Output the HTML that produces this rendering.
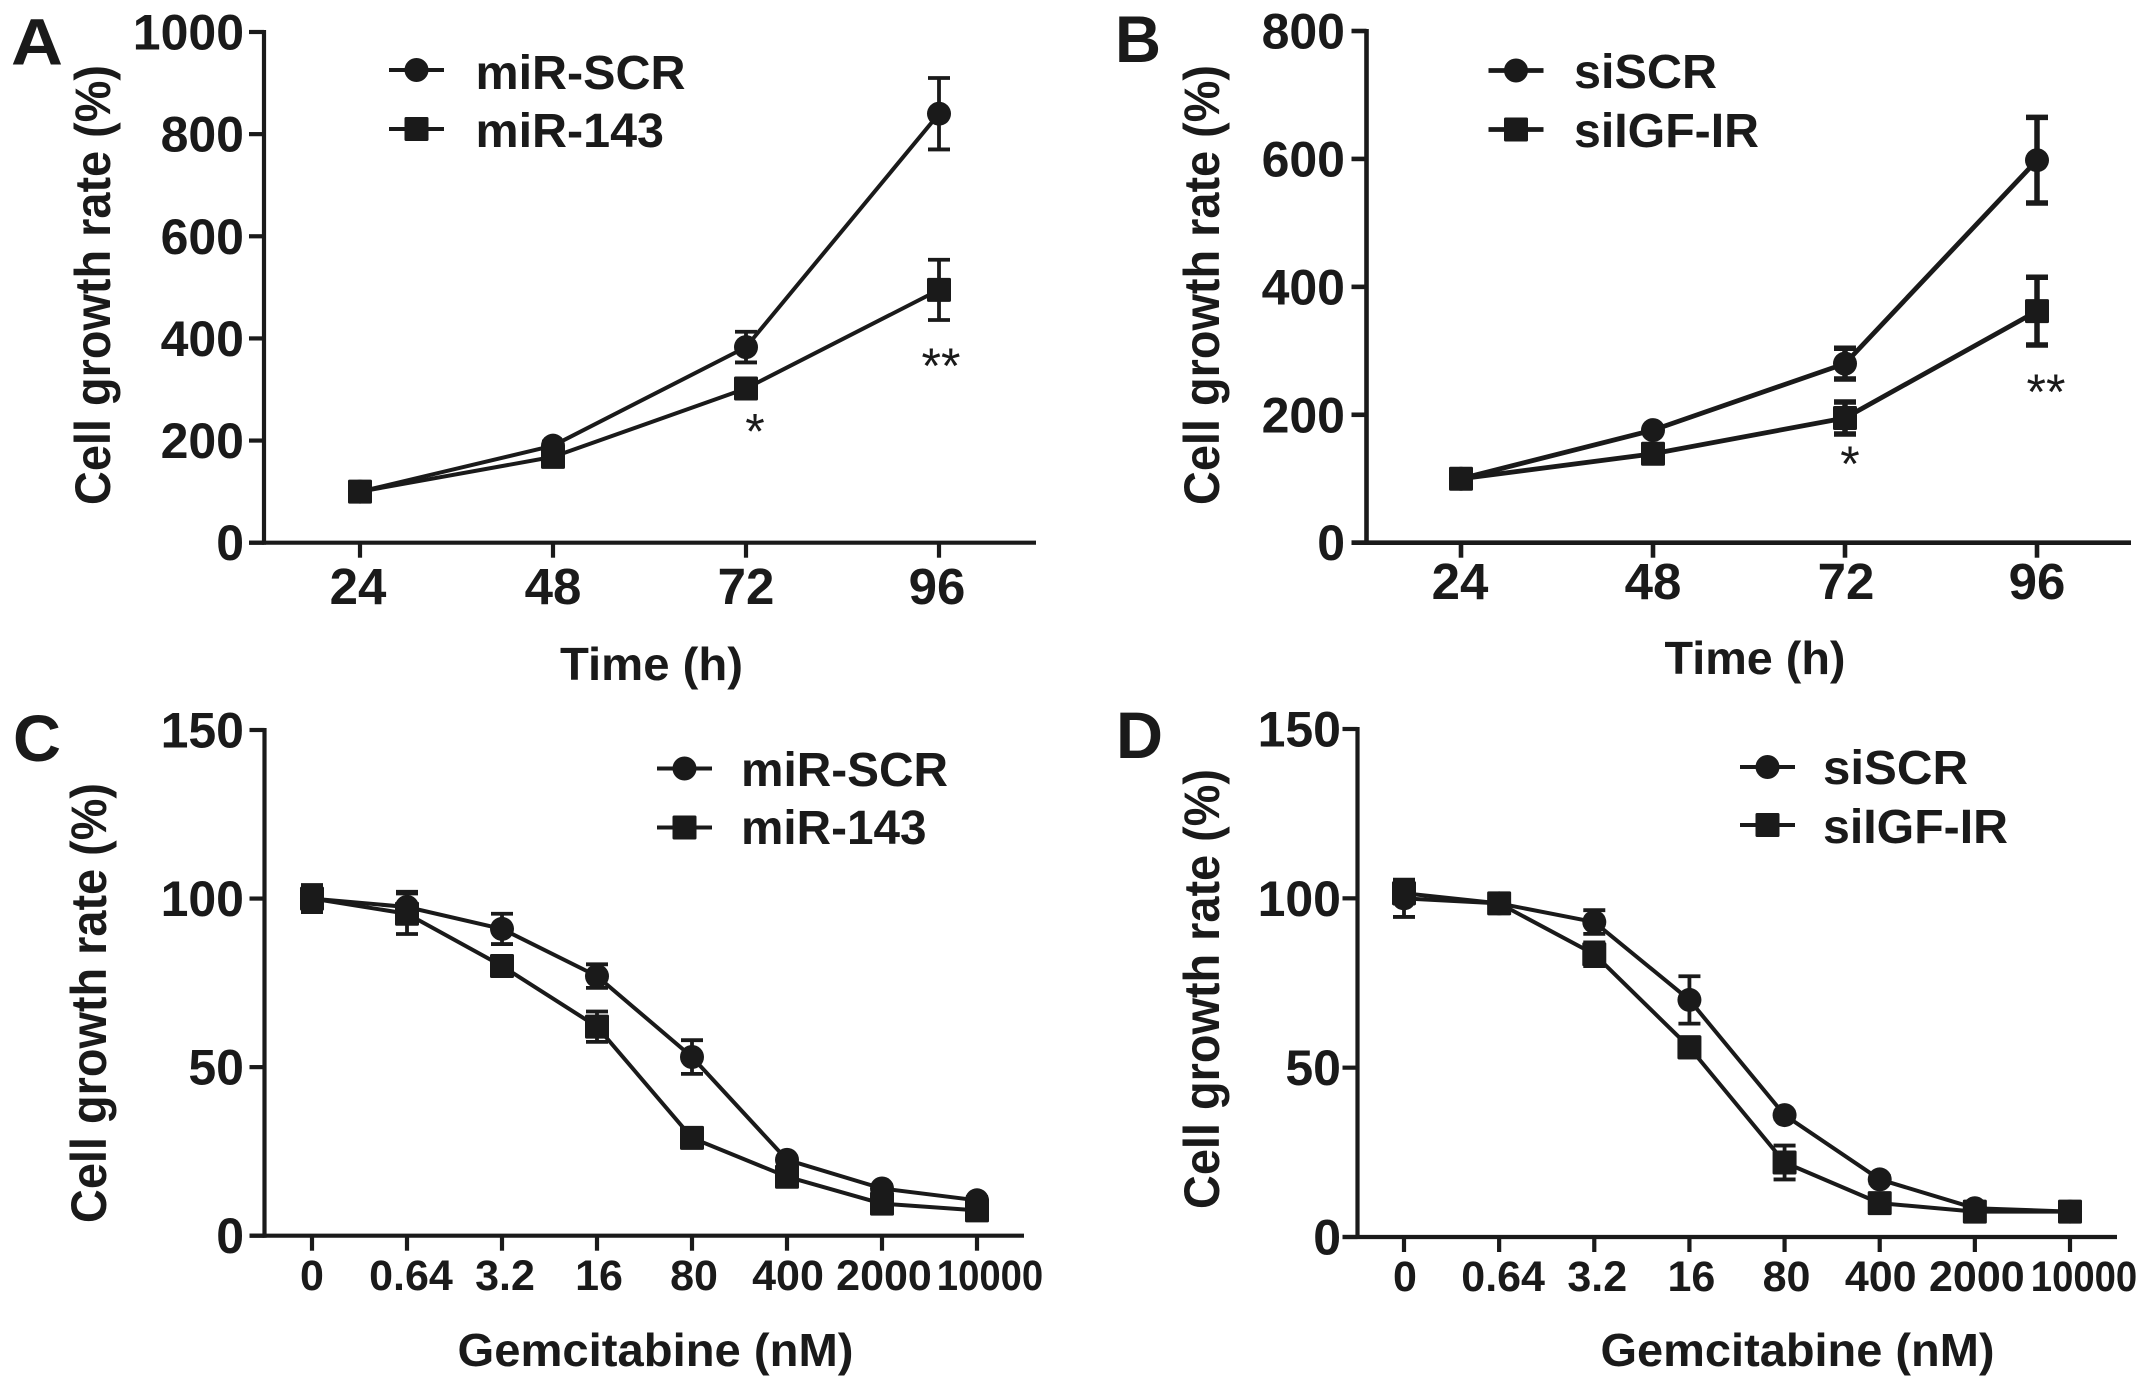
<!DOCTYPE html>
<html lang="en">
<head>
<meta charset="utf-8">
<title>Cell growth rate panels</title>
<style>
html,body{margin:0;padding:0;background:#fff;}
svg{display:block;}
text{font-family:"Liberation Sans",Arial,sans-serif;font-weight:700;fill:#1a1a1a;}
text.star{font-weight:400;}
</style>
</head>
<body>
<svg id="figure" xmlns="http://www.w3.org/2000/svg" width="2150" height="1389" viewBox="0 0 2150 1389"></svg>
<script>
// Panel A data
const timeCategories = ['24', '48', '72', '96'];
const panelAScr = [100, 190, 383, 840];
const panelAScrErr = [3, 8, 30, 70];
const panelA143 = [100, 168, 302, 495];
const panelA143Err = [3, 5, 5, 59];
const panelATicks = [0, 200, 400, 600, 800, 1000];
// Panel B data
const panelBScr = [100, 176, 280, 598];
const panelBScrErr = [3, 3, 24, 67];
const panelBIgf = [100, 139, 195, 362];
const panelBIgfErr = [3, 3, 25, 53];
const panelBTicks = [0, 200, 400, 600, 800];
// Panel C data
const doseCategories = ['0', '0.64', '3.2', '16', '80', '400', '2000', '10000'];
const panelCScr = [100, 97.5, 91, 77, 53, 22.5, 14, 10.5];
const panelCScrErr = [3, 4.5, 4.5, 3.5, 5, 1, 1, 1];
const panelC143 = [100, 95.5, 80, 62, 29, 17.5, 9.5, 7.5];
const panelC143Err = [4, 6, 2.5, 4.5, 1.5, 1.5, 1, 1];
const panelCTicks = [0, 50, 100, 150];
// Panel D data
const panelDScr = [100, 98.5, 93, 70, 36, 17, 8.5, 7.5];
const panelDScrErr = [5.5, 1, 3.5, 7, 1, 1, 1, 1];
const panelDIgf = [101.5, 98.5, 83.5, 56, 22, 10, 7.5, 7.5];
const panelDIgfErr = [3, 1, 3.5, 3, 5, 1, 1, 1];
const panelDTicks = [0, 50, 100, 150];

const NS = 'http://www.w3.org/2000/svg';
const INK = '#1a1a1a';
const root = document.getElementById('figure');

function make(tag, attrs, parent, content) {
  const el = document.createElementNS(NS, tag);
  for (const k in attrs) el.setAttribute(k, attrs[k]);
  if (content !== undefined) el.textContent = content;
  parent.appendChild(el);
  return el;
}

function drawPanel(p) {
  const g = make('g', {}, root);
  
  

  const yMax = p.yTicks[p.yTicks.length - 1];
  const yScale = v => p.y0 - (v / yMax) * (p.y0 - p.yTop);
  const xScale = i => p.xFirst + i * (p.xLast - p.xFirst) / (p.categories.length - 1);

  const letter = make('text', {x: p.letterX, y: p.letterY, 'font-size': 66, textLength: p.letterW, lengthAdjust: 'spacingAndGlyphs'}, g, p.id);
  
  

  const yAxis = make('line', {x1: p.xAxis, x2: p.xAxis, y1: p.yTop - 2, y2: p.y0 + 2, stroke: INK, 'stroke-width': p.axisW}, g);
  
  

  const xAxis = make('line', {x1: p.xAxis - 15, x2: p.xEnd, y1: p.y0, y2: p.y0, stroke: INK, 'stroke-width': p.axisW}, g);
  
  

  p.yTicks.forEach(v => {
    const tick = make('line', {x1: p.xAxis - 15, x2: p.xAxis, y1: yScale(v), y2: yScale(v), stroke: INK, 'stroke-width': p.axisW}, g);
    
    
    const label = make('text', {x: p.yLabelX, y: yScale(v) + 17.5, 'font-size': 50, 'text-anchor': 'end'}, g, String(v));
    
    
  });

  p.categories.forEach((c, i) => {
    const tick = make('line', {x1: xScale(i), x2: xScale(i), y1: p.y0, y2: p.y0 + 15, stroke: INK, 'stroke-width': p.axisW}, g);
    
    
    const label = make('text', {x: xScale(i) + p.xLabelShift[i], y: p.xLabelY, 'font-size': p.xTickFont, 'text-anchor': 'middle'}, g, c);
    if (c.length >= 5) {
      label.setAttribute('textLength', label.getComputedTextLength() * 0.89);
      label.setAttribute('lengthAdjust', 'spacingAndGlyphs');
    }
    
    
  });

  const xt = make('text', {x: p.xTitleX, y: p.xTitleY, 'font-size': 46, textLength: p.xTitleW, lengthAdjust: 'spacingAndGlyphs'}, g, p.xTitle);
  
  

  const yt = make('text', {transform: 'translate(' + p.yTitleX + ' ' + p.yTitleY + ') rotate(-90)', 'font-size': 50, 'text-anchor': 'middle', textLength: 440, lengthAdjust: 'spacingAndGlyphs'}, g, 'Cell growth rate (%)');
  
  

  p.series.forEach((s, si) => {
    const sg = make('g', {}, g);
    
    

    s.values.forEach((v, i) => {
      const x = xScale(i);
      const top = yScale(v + s.err[i]);
      const bot = yScale(v - s.err[i]);
      const bar = make('path', {d: 'M' + (x - 11) + ' ' + top + 'H' + (x + 11) + 'M' + x + ' ' + top + 'V' + bot + 'M' + (x - 11) + ' ' + bot + 'H' + (x + 11), fill: 'none', stroke: INK, 'stroke-width': p.errW}, sg);
      
      
    });

    const line = make('polyline', {points: s.values.map((v, i) => xScale(i) + ',' + yScale(v)).join(' '), fill: 'none', stroke: INK, 'stroke-width': p.lineW, 'stroke-linejoin': 'round'}, sg);
    
    

    s.values.forEach((v, i) => {
      const x = xScale(i);
      const y = yScale(v);
      const mark = si === 0
        ? make('circle', {cx: x, cy: y, r: 12, fill: INK}, sg)
        : make('rect', {x: x - 12, y: y - 12, width: 24, height: 24, rx: 1.5, fill: INK}, sg);
      
      
    });

    const lg = make('g', {}, g);
    
    
    const ly = p.legendY[si];
    const key = make('line', {x1: p.legendX1, x2: p.legendX1 + 55, y1: ly, y2: ly, stroke: INK, 'stroke-width': p.lineW}, lg);
    
    
    const lx = p.legendX1 + 27.5;
    const km = si === 0
      ? make('circle', {cx: lx, cy: ly, r: 12, fill: INK}, lg)
      : make('rect', {x: lx - 12, y: ly - 12, width: 24, height: 24, rx: 1.5, fill: INK}, lg);
    
    
    const lt = make('text', {x: p.legendTextX, y: p.legendBase[si], 'font-size': 48, textLength: s.legendW, lengthAdjust: 'spacingAndGlyphs'}, lg, s.name);
    
    
  });

  (p.marks || []).forEach(m => {
    const anchor = p.series[1].values[m.index];
    const star = make('text', {class: 'star', x: xScale(m.index) + m.dx, y: yScale(anchor) + m.dy, 'font-size': 50, 'text-anchor': 'middle'}, g, m.text);
    
    
  });
}

drawPanel({
  id: 'A', categories: timeCategories, yTicks: panelATicks,
  xAxis: 264, xEnd: 1036, yTop: 32, y0: 542.7, xFirst: 360, xLast: 939,
  axisW: 4.2, lineW: 4, errW: 3.8,
  letterX: 11, letterY: 64.5, letterW: 52,
  yLabelX: 244, xTickFont: 51, xLabelY: 604,
  xLabelShift: [-2, 0, 0, -2],
  xTitle: 'Time (h)', xTitleX: 560, xTitleY: 680, xTitleW: 183,
  yTitleX: 110, yTitleY: 285,
  legendX1: 389, legendY: [70, 129], legendTextX: 475.5, legendBase: [89, 147],
  series: [
    {name: 'miR-SCR', values: panelAScr, err: panelAScrErr, legendW: 210},
    {name: 'miR-143', values: panelA143, err: panelA143Err, legendW: 188.5}
  ],
  marks: [{index: 2, text: '*', dx: 9, dy: 60}, {index: 3, text: '**', dx: 2, dy: 93}]
});

drawPanel({
  id: 'B', categories: timeCategories, yTicks: panelBTicks,
  xAxis: 1366.5, xEnd: 2131, yTop: 31, y0: 542.7, xFirst: 1461, xLast: 2037,
  axisW: 4.6, lineW: 4.8, errW: 5.5,
  letterX: 1115, letterY: 62, letterW: 46,
  yLabelX: 1345, xTickFont: 51, xLabelY: 599,
  xLabelShift: [-1, 0, 1, 0],
  xTitle: 'Time (h)', xTitleX: 1664.5, xTitleY: 674, xTitleW: 181,
  yTitleX: 1219, yTitleY: 285,
  legendX1: 1488.5, legendY: [70.5, 129.5], legendTextX: 1574, legendBase: [88, 147],
  series: [
    {name: 'siSCR', values: panelBScr, err: panelBScrErr, legendW: 143},
    {name: 'siIGF-IR', values: panelBIgf, err: panelBIgfErr, legendW: 185}
  ],
  marks: [{index: 2, text: '*', dx: 5, dy: 63}, {index: 3, text: '**', dx: 9, dy: 98}]
});

drawPanel({
  id: 'C', categories: doseCategories, yTicks: panelCTicks,
  xAxis: 264.5, xEnd: 1024, yTop: 730, y0: 1235.7, xFirst: 312, xLast: 977,
  axisW: 4.2, lineW: 4, errW: 3.8,
  letterX: 13, letterY: 761, letterW: 48,
  yLabelX: 244, xTickFont: 43, xLabelY: 1290,
  xLabelShift: [0, 4, 3, 2, 2, 1, 2, 13],
  xTitle: 'Gemcitabine (nM)', xTitleX: 457.5, xTitleY: 1366, xTitleW: 396,
  yTitleX: 106, yTitleY: 1003,
  legendX1: 657, legendY: [768.5, 827.5], legendTextX: 741, legendBase: [786, 844],
  series: [
    {name: 'miR-SCR', values: panelCScr, err: panelCScrErr, legendW: 207},
    {name: 'miR-143', values: panelC143, err: panelC143Err, legendW: 185.5}
  ]
});

drawPanel({
  id: 'D', categories: doseCategories, yTicks: panelDTicks,
  xAxis: 1357.5, xEnd: 2117, yTop: 729, y0: 1237, xFirst: 1404, xLast: 2070,
  axisW: 4.2, lineW: 4, errW: 3.8,
  letterX: 1116, letterY: 758, letterW: 47,
  yLabelX: 1341, xTickFont: 43, xLabelY: 1291,
  xLabelShift: [1, 4, 3, 2, 2, 1, 2, 14],
  xTitle: 'Gemcitabine (nM)', xTitleX: 1600.5, xTitleY: 1366, xTitleW: 394,
  yTitleX: 1219, yTitleY: 989,
  legendX1: 1740, legendY: [767, 825], legendTextX: 1823, legendBase: [784, 843],
  series: [
    {name: 'siSCR', values: panelDScr, err: panelDScrErr, legendW: 145},
    {name: 'siIGF-IR', values: panelDIgf, err: panelDIgfErr, legendW: 185}
  ]
});
</script>
</body>
</html>
